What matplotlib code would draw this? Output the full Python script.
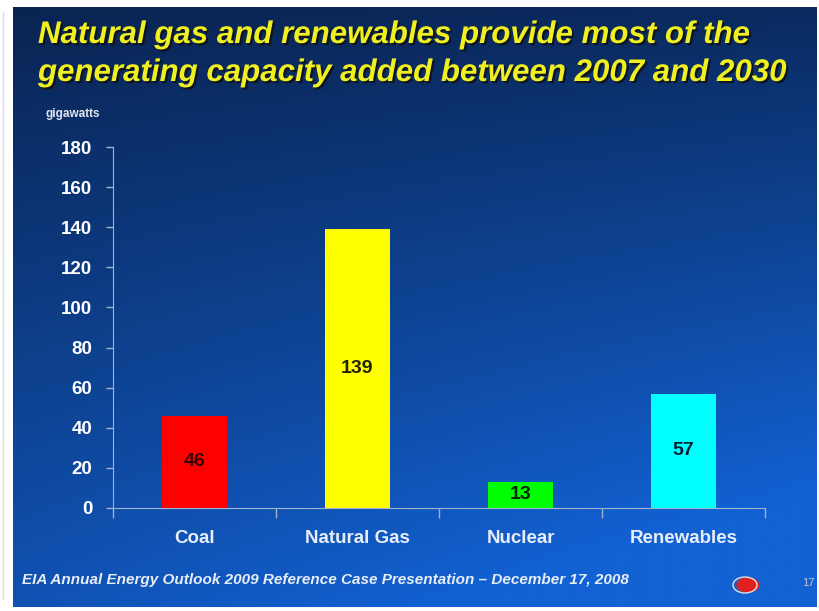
import numpy as np
import matplotlib.pyplot as plt
import matplotlib.patheffects as pe
from matplotlib.patches import Ellipse

categories = ["Coal", "Natural Gas", "Nuclear", "Renewables"]
gigawatts = [46, 139, 13, 57]
bar_colors = ["#ff0000", "#ffff00", "#00ff00", "#00ffff"]
label_colors = ["#3a0000", "#222200", "#002200", "#002233"]
yticks = [0, 20, 40, 60, 80, 100, 120, 140, 160, 180]

plt.rcParams['font.family'] = ['Liberation Sans', 'DejaVu Sans']

fig = plt.figure(figsize=(8.19, 6.11), dpi=100, facecolor="white")

# slide background with blue gradient
bg = fig.add_axes([13/819, 1 - 607/611, (817-13)/819, (607-7)/611])
ny, nx = 200, 200
yy, xx = np.mgrid[0:1:ny*1j, 0:1:nx*1j]
t = np.clip(0.75*yy + 0.35*xx*yy + 0.1*xx, 0, 1)
top = np.array([0x0a, 0x24, 0x52]) / 255
bot = np.array([0x12, 0x62, 0xd4]) / 255
img = top + (bot - top) * t[..., None]
bg.imshow(img, aspect="auto", extent=[0, 1, 0, 1], origin="upper")
bg.set_axis_off()

fig.add_artist(plt.Line2D([3/819, 3/819], [0.02, 0.98], color="#dddddd", lw=1))

ax = fig.add_axes([113/819, 1 - 508/611, 652/819, 361/611])
ax.patch.set_alpha(0)
x = np.arange(len(categories))
ax.bar(x, gigawatts, width=0.4, color=bar_colors, zorder=3)
for xi, v, c in zip(x, gigawatts, label_colors):
    ax.text(xi, v / 2, str(v), ha="center", va="center", fontsize=14,
            fontweight="bold", color=c, zorder=4)

ax.set_xlim(-0.5, 3.5)
ax.set_ylim(0, 180)
ax.set_yticks(yticks)
ax.set_yticklabels([str(v) for v in yticks], fontsize=13.5, fontweight="bold", color="white")
ax.set_xticks([-0.5, 0.5, 1.5, 2.5, 3.5])
ax.set_xticklabels([])
ax.tick_params(axis="x", direction="out", length=7, color="#a0b4d0", width=1)
ax.tick_params(axis="y", direction="out", length=5, color="#a0b4d0", width=1, pad=10)
for xi, name in zip(x, categories):
    ax.text(xi, -15, name, ha="center", va="center", fontsize=13.5,
            fontweight="bold", color="#e8eef8")
for s in ["top", "right"]:
    ax.spines[s].set_visible(False)
ax.spines["left"].set_color("#a0b4d0")
ax.spines["bottom"].set_color("#a0b4d0")

shadow = [pe.withSimplePatchShadow(offset=(1.5, -1.5), shadow_rgbFace="#101010", alpha=0.8)]
fig.text(38/819, 1 - 35/611, "Natural gas and renewables provide most of the",
         fontsize=22.5, fontweight="bold", style="italic", color="#f0f020",
         va="center", ha="left", path_effects=shadow)
fig.text(38/819, 1 - 73/611, "generating capacity added between 2007 and 2030",
         fontsize=22.5, fontweight="bold", style="italic", color="#f0f020",
         va="center", ha="left", path_effects=shadow)
fig.text(45/819, 1 - 114/611, "gigawatts", fontsize=8.5, fontweight="bold",
         color="#e0e6f0", va="center", ha="left")

fig.text(22/819, 1 - 580/611,
         "EIA Annual Energy Outlook 2009 Reference Case Presentation \u2013 December 17, 2008",
         fontsize=11, fontweight="bold", style="italic", color="#e8eef8",
         va="center", ha="left")
fig.add_artist(Ellipse((748/819, 1 - 585/611), 22/819, 14/611, color="#e02020"))
fig.add_artist(Ellipse((745/819, 1 - 585/611), 24/819, 16/611, fill=False,
                       edgecolor="#e0e0e0", lw=1))
fig.text(808/819, 1 - 583/611, "17", fontsize=8, color="#c0c8d8",
         va="center", ha="center")

fig.savefig("out.png", dpi=100, facecolor="white")
